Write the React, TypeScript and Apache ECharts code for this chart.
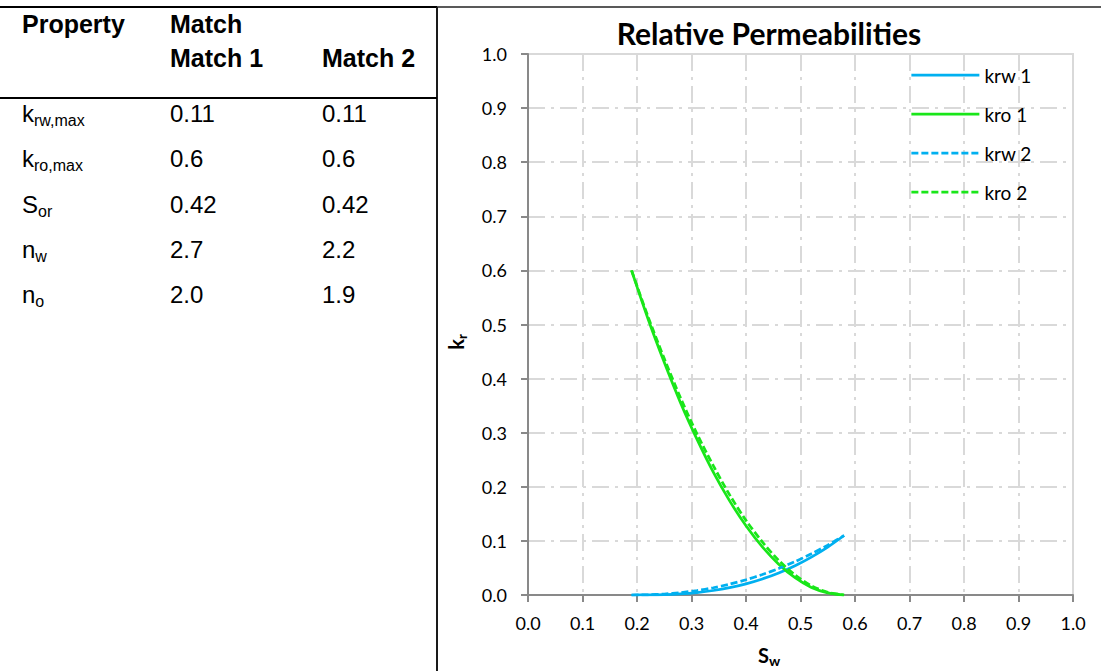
import React, { useEffect, useRef } from "react";
import * as echarts from "echarts";

// Water saturation samples and relative permeability curves (two matches)
const sw = [0.19, 0.22, 0.25, 0.28, 0.31, 0.34, 0.37, 0.4, 0.43, 0.46, 0.49, 0.52, 0.55, 0.58];
const krw1 = [0, 0.0001, 0.0007, 0.0021, 0.0046, 0.0083, 0.0136, 0.0207, 0.0297, 0.0408, 0.0542, 0.0701, 0.0886, 0.11];
const kro1 = [0.6, 0.511, 0.43, 0.355, 0.288, 0.227, 0.174, 0.128, 0.089, 0.057, 0.032, 0.014, 0.004, 0];
const krw2 = [0, 0.0004, 0.0018, 0.0044, 0.0082, 0.0134, 0.0201, 0.0282, 0.0378, 0.049, 0.0618, 0.0762, 0.0922, 0.11];
const kro2 = [0.6, 0.515, 0.437, 0.364, 0.298, 0.239, 0.185, 0.138, 0.098, 0.064, 0.037, 0.017, 0.005, 0];

const seriesNames = ["krw 1", "kro 1", "krw 2", "kro 2"];
const seriesValues = [krw1, kro1, krw2, kro2];
const seriesColors = ["#00b0f0", "#19e619", "#00b0f0", "#19e619"];
const seriesDashed = [false, false, true, true];

// Parameter table
const headerLabels = ["Property", "Match"];
const matchColumns = ["Match 1", "Match 2"];
const propertyMain = ["k", "k", "S", "n", "n"];
const propertySub = ["rw,max", "ro,max", "or", "w", "o"];
const match1 = ["0.11", "0.6", "0.42", "2.7", "2.0"];
const match2 = ["0.11", "0.6", "0.42", "2.2", "1.9"];

const TABLE_FONT = "'Liberation Sans', Arial, sans-serif";
const CHART_FONT = "Lato, 'Open Sans', sans-serif";

function buildTable(): any[] {
  const els: any[] = [];
  const colX = [22, 170, 322];
  const rowBaselines = [122, 167, 213, 258, 303];
  const fs = 24;
  const bold = 25;
  // table rules
  els.push({ type: "line", shape: { x1: 0, y1: 7, x2: 437, y2: 7 }, style: { stroke: "#000", lineWidth: 2 } });
  els.push({ type: "line", shape: { x1: 437, y1: 7, x2: 1101, y2: 7 }, style: { stroke: "#595959", lineWidth: 2 } });
  els.push({ type: "line", shape: { x1: 437, y1: 7, x2: 437, y2: 671 }, style: { stroke: "#1a1a1a", lineWidth: 2 } });
  els.push({ type: "line", shape: { x1: 0, y1: 98, x2: 437, y2: 98 }, style: { stroke: "#000", lineWidth: 2 } });

  const headStyle = { fill: "#000", font: `bold ${bold}px ${TABLE_FONT}`, verticalAlign: "middle", align: "left" };
  const hc = 33 - 0.3465 * bold;
  els.push({ type: "text", style: { ...headStyle, text: headerLabels[0], x: colX[0], y: hc } });
  els.push({ type: "text", style: { ...headStyle, text: headerLabels[1], x: colX[1], y: hc } });
  const hc2 = 67 - 0.3465 * bold;
  els.push({ type: "text", style: { ...headStyle, text: matchColumns[0], x: colX[1], y: hc2 } });
  els.push({ type: "text", style: { ...headStyle, text: matchColumns[1], x: colX[2], y: hc2 } });

  propertyMain.forEach((m, i) => {
    const c = rowBaselines[i] - 0.3465 * fs;
    els.push({
      type: "text",
      style: {
        text: `{m|${m}}{s|${propertySub[i]}}`,
        x: colX[0],
        y: c,
        align: "left",
        verticalAlign: "middle",
        fill: "#000",
        rich: {
          m: { fontSize: fs, fontFamily: TABLE_FONT, lineHeight: 30, fill: "#000" },
          s: { fontSize: 16, fontFamily: TABLE_FONT, lineHeight: 15, verticalAlign: "bottom", fill: "#000" },
        },
      },
    });
    const vs = { font: `${fs}px ${TABLE_FONT}`, fill: "#000", verticalAlign: "middle", align: "left" };
    els.push({ type: "text", style: { ...vs, text: match1[i], x: colX[1], y: c } });
    els.push({ type: "text", style: { ...vs, text: match2[i], x: colX[2], y: c } });
  });
  return els;
}

function axisNames(): any[] {
  return [
    {
      type: "text",
      x: 456,
      y: 342,
      rotation: Math.PI / 2,
      style: {
        text: "{m|k}{s|r}",
        align: "center",
        verticalAlign: "middle",
        fill: "#000",
        rich: {
          m: { fontSize: 20, fontWeight: "bold", fontFamily: CHART_FONT, lineHeight: 24, fill: "#000" },
          s: { fontSize: 13, fontWeight: "bold", fontFamily: CHART_FONT, lineHeight: 12, verticalAlign: "bottom", fill: "#000" },
        },
      },
    },
    {
      type: "text",
      x: 769,
      y: 655,
      style: {
        text: "{m|S}{s|w}",
        align: "center",
        verticalAlign: "middle",
        fill: "#000",
        rich: {
          m: { fontSize: 20, fontWeight: "bold", fontFamily: CHART_FONT, lineHeight: 24, fill: "#000" },
          s: { fontSize: 14, fontWeight: "bold", fontFamily: CHART_FONT, lineHeight: 12, verticalAlign: "bottom", fill: "#000" },
        },
      },
    },
  ];
}

export default function App() {
  const ref = useRef<HTMLDivElement>(null);
  useEffect(() => {
    document.body.style.margin = "0";
    if (!ref.current) return;
    const chart = echarts.init(ref.current, undefined, { renderer: "svg" });
    const axisColor = "#898989";
    const splitLine = { show: true, lineStyle: { color: "#d9d9d9", width: 2, type: [17, 6, 3, 6] } };
    const labelStyle = { fontFamily: CHART_FONT, fontSize: 18, color: "#000", formatter: (v: number) => v.toFixed(1) };
    chart.setOption({
      animation: false,
      backgroundColor: "#fff",
      title: {
        text: "Relative Permeabilities",
        left: 764,
        top: 13,
        textAlign: "center",
        textStyle: { fontFamily: CHART_FONT, fontWeight: "bold", fontSize: 30, color: "#000" },
      },
      legend: {
        orient: "vertical",
        left: 910,
        top: 65,
        padding: 0,
        itemWidth: 68,
        itemHeight: 20,
        itemGap: 19,
        data: seriesNames,
        itemStyle: { opacity: 0 },
        lineStyle: { width: 2.75 },
        textStyle: { fontFamily: CHART_FONT, fontSize: 19, color: "#000", lineHeight: 20 },
      },
      grid: {
        left: 528,
        right: 28,
        top: 54,
        bottom: 76,
        show: true,
        borderColor: "#d9d9d9",
        borderWidth: 2,
        containLabel: false,
      },
      xAxis: {
        type: "value",
        min: 0,
        max: 1,
        interval: 0.1,
        axisLine: { lineStyle: { color: axisColor, width: 2 } },
        axisTick: { show: true, length: 7, lineStyle: { color: axisColor, width: 2 } },
        axisLabel: { ...labelStyle, margin: 19 },
        splitLine,
      },
      yAxis: {
        type: "value",
        min: 0,
        max: 1,
        interval: 0.1,
        axisLine: { show: true, lineStyle: { color: axisColor, width: 2 } },
        axisTick: { show: true, length: 7, lineStyle: { color: axisColor, width: 2 } },
        axisLabel: { ...labelStyle, margin: 21 },
        splitLine,
      },
      series: seriesNames.map((name, i) => ({
        name,
        type: "line",
        data: sw.map((x, j) => [x, seriesValues[i][j]]),
        showSymbol: false,
        symbol: "none",
        smooth: 0.3,
        color: seriesColors[i],
        lineStyle: { color: seriesColors[i], width: 2.75, type: seriesDashed[i] ? [7, 3] : "solid" },
      })),
      graphic: [...buildTable(), ...axisNames()],
    });
    return () => chart.dispose();
  }, []);
  return <div ref={ref} style={{ width: 1101, height: 671 }} />;
}
